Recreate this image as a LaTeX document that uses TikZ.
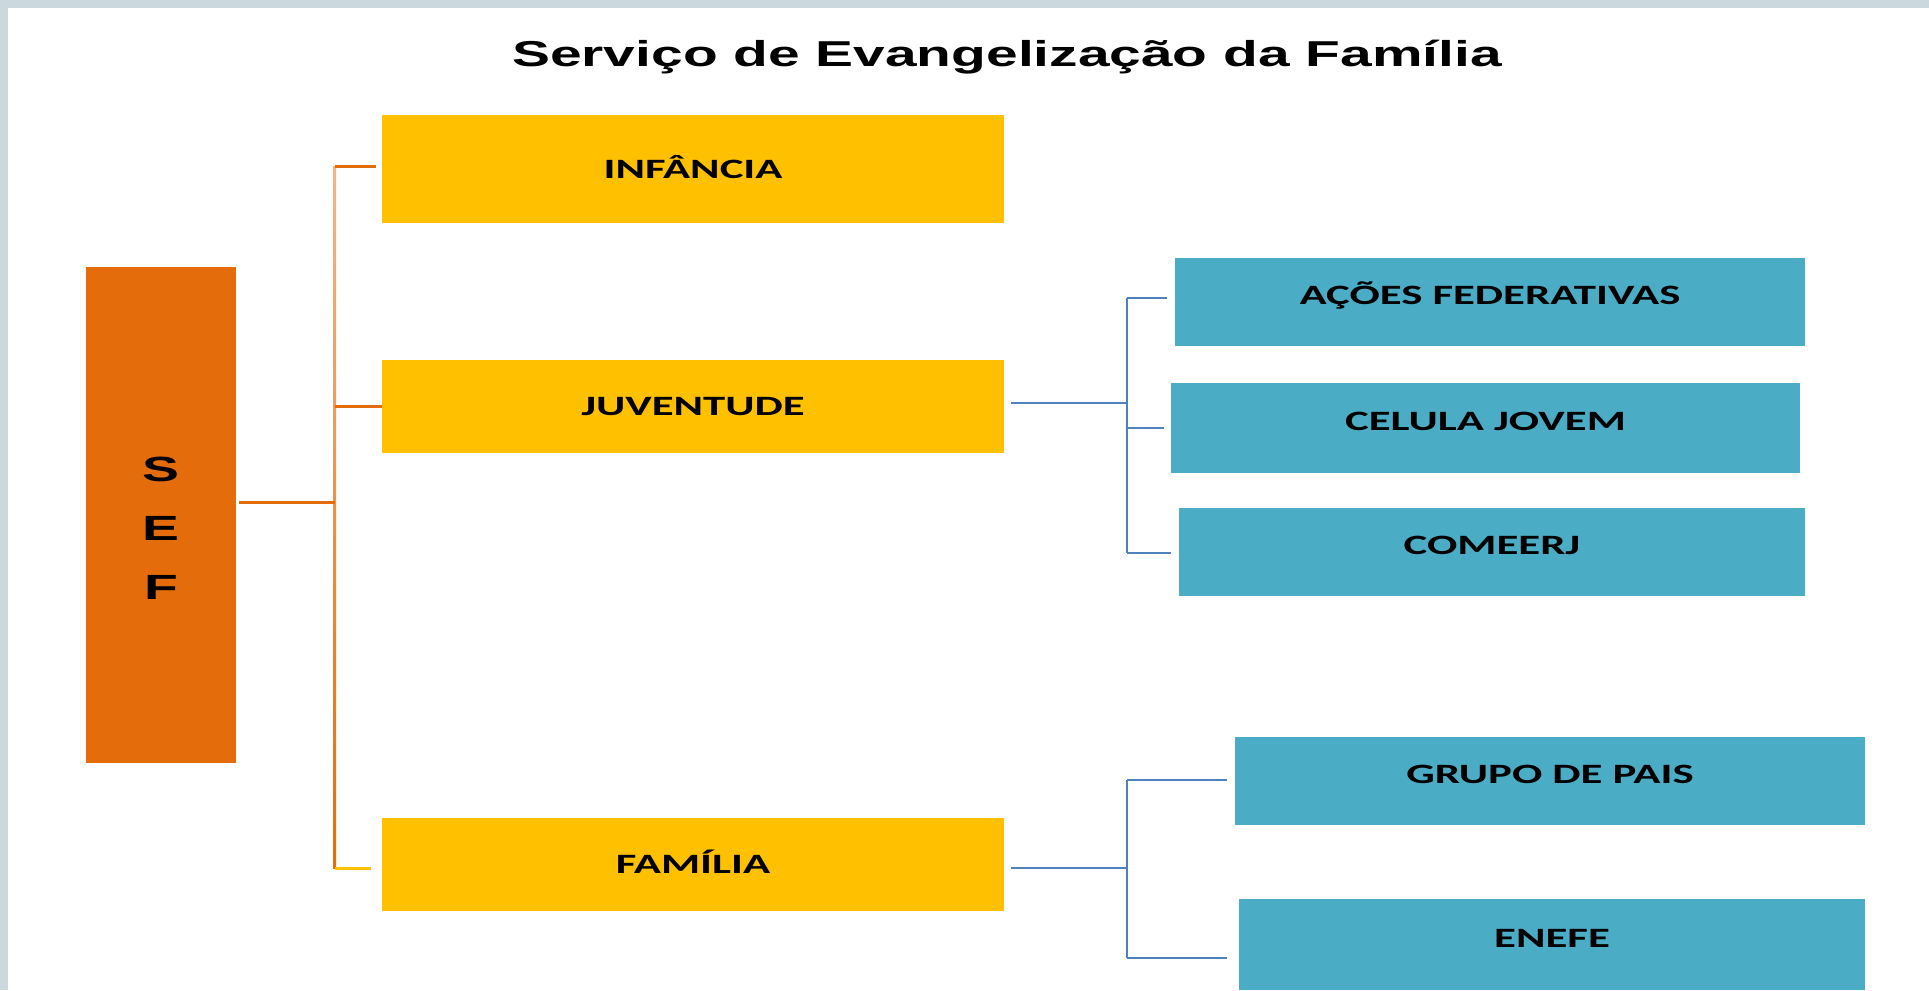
\documentclass[tikz,border=0pt]{standalone}
\usepackage{fontspec}
\setmainfont{Liberation Sans}
\newfontfamily\arialx[FakeStretch=1.58]{Liberation Sans}
\newfontfamily\calx[FakeStretch=1.6]{Carlito}
\usetikzlibrary{calc}
\definecolor{sefor}{HTML}{E46C0A}
\definecolor{yel}{HTML}{FFC000}
\definecolor{tealbox}{HTML}{4BACC6}
\definecolor{lnblue}{HTML}{4F81BD}
\definecolor{trtop}{HTML}{F2B588}
\definecolor{bgtex}{HTML}{CBD8DE}
\begin{document}
\begin{tikzpicture}[x=1pt,y=1pt,
  ybox/.style={fill=yel, draw=none, inner sep=0pt, minimum width=622pt, minimum height=#1,
    font=\calx\bfseries\fontsize{28pt}{30pt}\selectfont, text height=18pt, text depth=0pt},
  tbox/.style={fill=tealbox, draw=none, inner sep=0pt,
    font=\calx\bfseries\fontsize{28pt}{30pt}\selectfont, text height=14pt, text depth=9pt},
  oline/.style={draw=sefor, line width=3pt},
  yline/.style={draw=yel, line width=3pt},
  bline/.style={draw=lnblue, line width=2.8pt}
]
\useasboundingbox (0,0) rectangle (1929,-990);
\fill[bgtex] (0,0) rectangle (1929,-990);
\fill[white] (8,-8) rectangle (1929,-990);

% title
\node[inner sep=0pt, text height=26pt, text depth=0pt,
  font=\arialx\bfseries\fontsize{36pt}{40pt}\selectfont] (title) at (1007,-53.7)
  {Serviço de Evangelização da Família};

% main nodes
\node[fill=sefor, inner sep=0pt, minimum width=150pt, minimum height=496pt] (sef) at (161,-515) {};
\node[inner sep=0pt, align=center, font=\arialx\bfseries\fontsize{35pt}{59pt}\selectfont] (seft) at (161,-528) {S\\E\\F};

\node[ybox=108pt] (inf) at (693,-169) {INFÂNCIA};
\node[ybox=93pt] (juv) at (693,-406.5) {JUVENTUDE};
\node[ybox=93pt] (fam) at (693,-864.5) {FAMÍLIA};

\node[tbox, minimum width=630pt, minimum height=88pt] (acoes) at (1490,-302) {AÇÕES FEDERATIVAS};
\node[tbox, minimum width=629pt, minimum height=90pt] (celula) at (1485.5,-428) {CELULA JOVEM};
\node[tbox, minimum width=626pt, minimum height=88pt] (comeerj) at (1492,-552) {COMEERJ};
\node[tbox, minimum width=630pt, minimum height=88pt] (grupo) at (1550,-781) {GRUPO DE PAIS};
\node[tbox, minimum width=626pt, minimum height=91pt] (enefe) at (1552,-944.5) {ENEFE};

% orange trunk
\coordinate (ta) at (334.5,-166);
\coordinate (tb) at (334.5,-868);
\shade[top color=trtop, bottom color=sefor] ($(ta)+(-1.5,0)$) rectangle ($(tb)+(1.5,0)$);
\draw[oline, shorten >=6pt] (ta) -- (ta -| inf.west);
\draw[oline] (ta |- juv.west) -- (juv.west);
\coordinate (s1) at ([xshift=3pt,yshift=13pt]sef.east);
\draw[oline] (s1) -- (s1 -| ta);
\draw[yline, shorten >=11pt] (tb) -- (tb -| fam.west);

% blue tree for Juventude
\coordinate (ba) at (1127,-298);
\coordinate (bb) at (1127,-553);
\coordinate (j1) at ([xshift=7pt,yshift=3.5pt]juv.east);
\draw[bline] (j1) -- (j1 -| ba);
\draw[bline] (ba) -- (bb);
\draw[bline, shorten >=8pt] (ba) -- (ba -| acoes.west);
\draw[bline, shorten >=7pt] (ba |- celula.west) -- (celula.west);
\draw[bline, shorten >=8pt] (bb) -- (bb -| comeerj.west);

% blue tree for Familia
\coordinate (ga) at (1127,-780);
\coordinate (gb) at (1127,-958);
\coordinate (f1) at ([xshift=7pt,yshift=-3.5pt]fam.east);
\draw[bline] (f1) -- (f1 -| ga);
\draw[bline] (ga) -- (gb);
\draw[bline, shorten >=8pt] (ga) -- (ga -| grupo.west);
\draw[bline, shorten >=12pt] (gb) -- (gb -| enefe.west);
\end{tikzpicture}
\end{document}
